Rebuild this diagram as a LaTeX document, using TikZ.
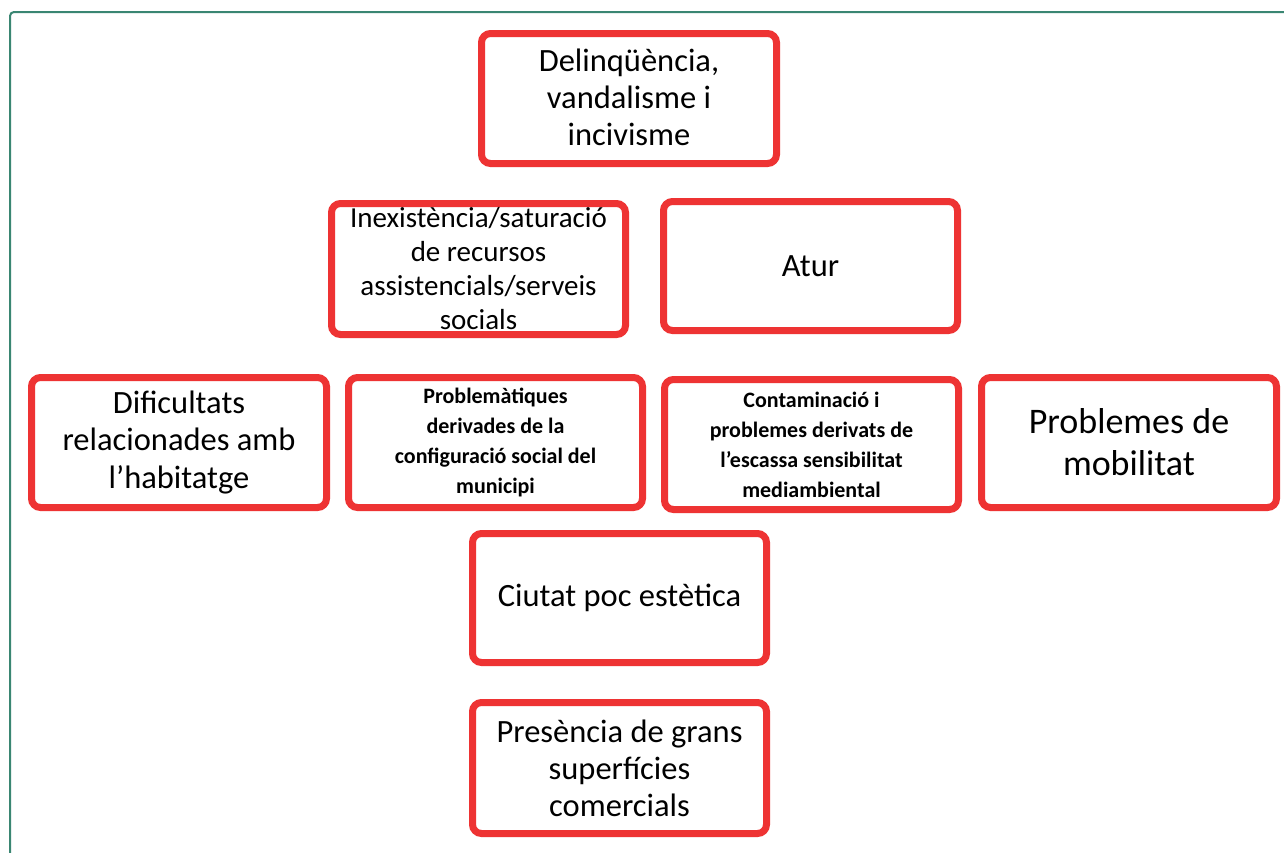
\documentclass[tikz,border=0pt]{standalone}
\usepackage{fontspec}
\setmainfont{Carlito}
\begin{document}
\begin{tikzpicture}[x=1pt,y=-1pt,
  box/.style={draw=boxred, line width=7pt, rounded corners=9pt, fill=white, align=center, inner sep=0pt},
  nrm/.style={font=\fontsize{32.5}{37}\selectfont},
  sml/.style={font=\fontsize{29}{34}\selectfont},
  bld/.style={font=\fontsize{22}{30}\selectfont\bfseries},
  big/.style={font=\fontsize{36}{42}\selectfont}]
\definecolor{boxred}{HTML}{EE3333}
\definecolor{frame}{HTML}{3A8672}
\useasboundingbox (0,0) rectangle (1284,852);
\fill[white] (0,0) rectangle (1284,852);
\draw[frame, line width=2pt, rounded corners=4pt] (10,860) -- (10,12) -- (1295,12);
\newcommand{\bx}[6]{\node[box,#6,minimum width=#3-#2-7,minimum height=#5-#4-7] (#1) at ({(#2+#3)/2},{(#4+#5)/2}) {};}
\bx{del}{478}{780}{30}{167}{}
\bx{inex}{328}{629}{200}{338}{}
\bx{atur}{660}{961}{198}{334}{}
\bx{dif}{28}{330}{374}{511}{}
\bx{prob}{345}{646}{374}{511}{}
\bx{cont}{661}{962}{376}{513}{}
\bx{mob}{978}{1280}{374}{511}{}
\bx{ciu}{469}{770}{530}{666}{}
\bx{pres}{469}{770}{699}{837}{}
\node[nrm, align=center] (tdel) at ([yshift=1pt]del.center) {Delinqüència,\\vandalisme i\\incivisme};
\node[sml, align=center] (tinex) at (inex.center) {Inexistència/saturació\\de recursos\\assistencials/serveis\\socials};
\node[nrm] (tatur) at (atur.center) {Atur};
\node[nrm, align=center] (tdif) at (dif.center) {Dificultats\\relacionades amb\\l’habitatge};
\node[bld, align=center] (tprob) at (prob.center) {Problemàtiques\\derivades de la\\configuració social del\\municipi};
\node[bld, align=center] (tcont) at (cont.center) {Contaminació i\\problemes derivats de\\l’escassa sensibilitat\\mediambiental};
\node[big, align=center] (tmob) at (mob.center) {Problemes de\\mobilitat};
\node[nrm] (tciu) at (ciu.center) {Ciutat poc estètica};
\node[nrm, align=center] (tpres) at (pres.center) {Presència de grans\\superfícies\\comercials};
\end{tikzpicture}
\end{document}
